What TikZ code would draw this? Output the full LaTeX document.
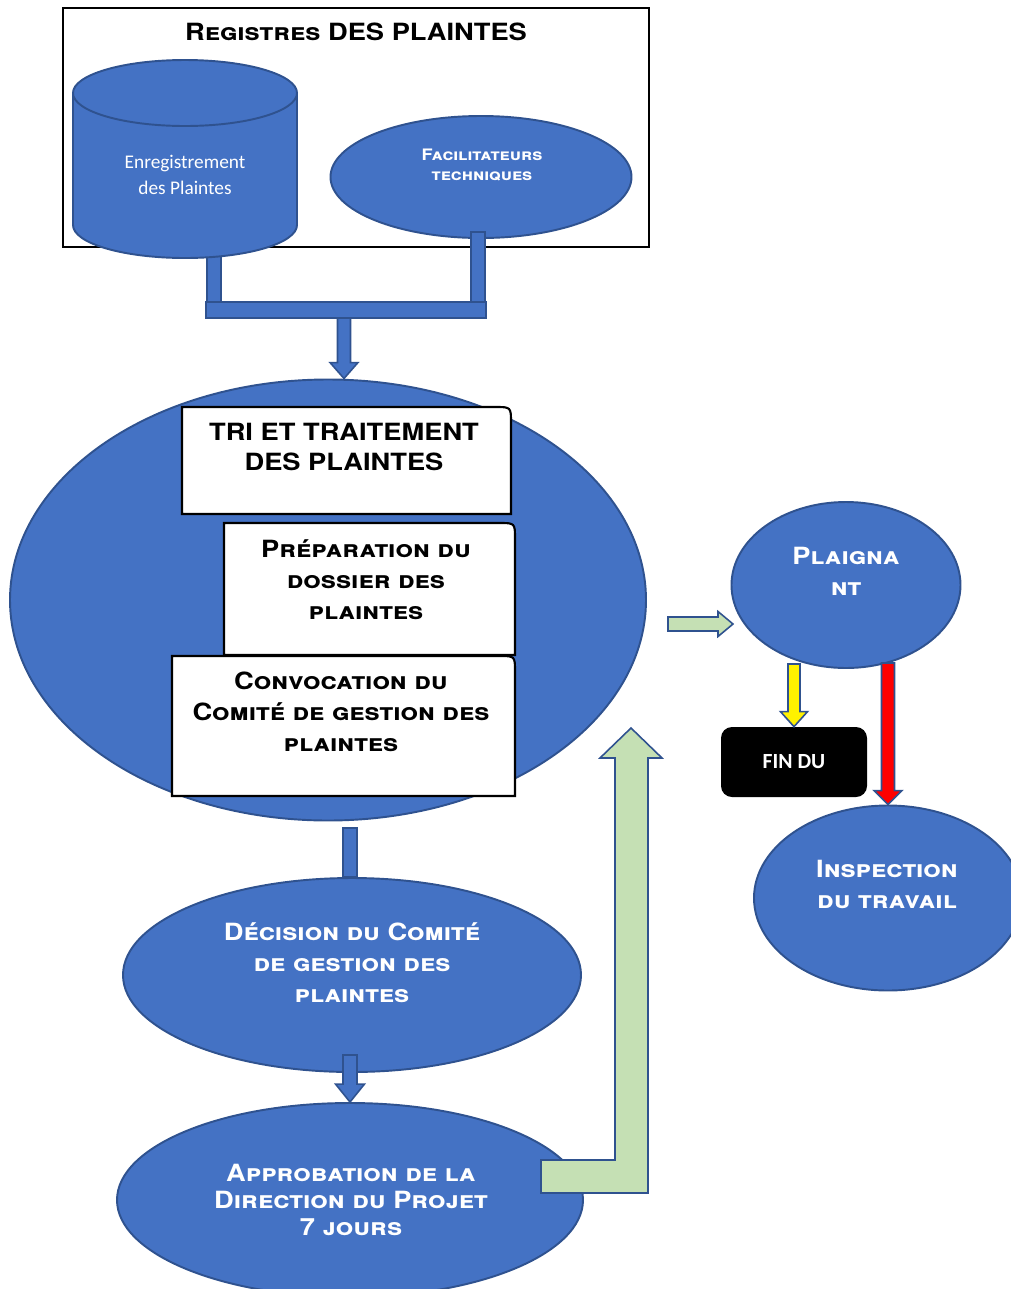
\documentclass[tikz,border=0pt]{standalone}
\usepackage{fontspec}
\setmainfont{Carlito}
\newfontfamily\cuivre{TeX Gyre Heros}[FakeStretch=1.15]
\usetikzlibrary{shapes.geometric,calc}
\definecolor{bleuForme}{HTML}{4472C4}
\definecolor{bleuBord}{HTML}{2F528F}
\definecolor{vertFleche}{HTML}{C5E0B4}
\def\Px{0.02cm}
% Fleches pleines : depart, pointe, couleur, demi-largeur, demi-tete, longueur de tete
\newcommand{\FlecheBas}[6]{%
  \draw[bloc,fill=#3] ($(#2 |- #1)+(-#4,0)$) -- ($(#2)+(-#4,-#6)$) -- ($(#2)+(-#5,-#6)$) -- (#2)
    -- ($(#2)+(#5,-#6)$) -- ($(#2)+(#4,-#6)$) -- ($(#2 |- #1)+(#4,0)$) -- cycle;}
\newcommand{\FlecheDroite}[6]{%
  \draw[bloc,fill=#3] ($(#2 -| #1)+(0,-#4)$) -- ($(#2)+(-#6,-#4)$) -- ($(#2)+(-#6,-#5)$) -- (#2)
    -- ($(#2)+(-#6,#5)$) -- ($(#2)+(-#6,#4)$) -- ($(#2 -| #1)+(0,#4)$) -- cycle;}
\newcommand{\Barre}[2]{%
  \draw[bloc,fill=bleuForme] ($(#1)+(-7,0)$) rectangle ($(#2)+(7,0)$);}
\begin{document}
\begin{tikzpicture}[x=0.02cm,y=-0.02cm]
% Styles
\tikzset{
  forme/.style={ellipse,draw=bleuBord,fill=bleuForme,line width=1.1pt,inner sep=0pt},
  bloc/.style={draw=bleuBord,line width=0.9pt,line join=miter},
  boite/.style={draw=black,fill=white,line width=1.2pt},
  cuivreBlanc/.style={text=white,align=center,inner sep=0pt,font=\cuivre\bfseries\scshape\fontsize{13.5}{17.6}\selectfont},
  cuivreNoir/.style={cuivreBlanc,text=black},
}
\useasboundingbox (0,0) rectangle (1011,1289);
\clip (0,0) rectangle (1011,1289);
% Registre des plaintes
\node[draw=black,line width=0.6pt,minimum width=586*\Px,minimum height=239*\Px,inner sep=0pt] (registre) at (356,127.5) {};
\node[cuivreNoir,font=\cuivre\bfseries\scshape\fontsize{13.5}{16}\selectfont] (titre) at (356,32) {Registres DES PLAINTES};
\node[forme,minimum width=301*\Px,minimum height=122*\Px] (facilitateurs) at (481,177) {};
\node[cuivreBlanc,font=\cuivre\bfseries\scshape\fontsize{9}{11.9}\selectfont] (facilitateursTxt) at (482,165) {Facilitateurs\\techniques};
% Jonction
\coordinate (cylBas) at (214,250);
\coordinate (facilBas) at (478,232);
\coordinate (barreG) at (214,310);
\coordinate (barreD) at (478,310);
\coordinate (jonction) at (344,318);
\Barre{cylBas}{cylBas |- barreG}
\Barre{facilBas}{facilBas |- barreG}
\draw[bloc,fill=bleuForme] ($(barreG)+(-8,-8)$) rectangle ($(barreD)+(8,8)$);
% Cylindre
\node[forme,minimum width=224*\Px,minimum height=66*\Px] (cylPied) at (185,225) {};
\fill[bleuForme] (73,93) rectangle (297,225);
\draw[bleuBord,line width=1.1pt] (73,93) -- (73,225) (297,93) -- (297,225);
\node[forme,minimum width=224*\Px,minimum height=66*\Px] (cylTete) at (185,93) {};
\node[text=white,align=center,inner sep=0pt,font=\fontsize{11}{14.7}\selectfont] (enregistrement) at (185,175) {Enregistrement\\des Plaintes};
% Tri et traitement
\node[forme,minimum width=636*\Px,minimum height=441*\Px] (tri) at (328,600) {};
\coordinate (pointeTri) at (jonction |- tri.north);
\FlecheBas{jonction}{pointeTri}{bleuForme}{6.5}{14}{16}
\draw[boite] (182,514) -- (182,407) -- (495,407) .. controls (511,407) .. (511,423) -- (511,514) -- cycle;
\draw[boite] (224,655) -- (224,523) -- (499,523) .. controls (515,523) .. (515,539) -- (515,655) -- cycle;
\draw[boite] (172,796) -- (172,656) -- (499,656) .. controls (515,656) .. (515,672) -- (515,796) -- cycle;
\node[cuivreNoir] (triTxt) at (344,447) {TRI ET TRAITEMENT\\DES PLAINTES};
\node[cuivreNoir] (preparation) at (366,580) {Préparation du\\dossier des\\plaintes};
\node[cuivreNoir] (convocation) at (341,712) {Convocation du\\Comité de gestion des\\plaintes};
% Decision et approbation
\coordinate (triBas) at (350,828);
\node[forme,minimum width=458*\Px,minimum height=194*\Px] (decision) at (352,975) {};
\Barre{triBas}{triBas |- decision.north}
\node[cuivreBlanc] (decisionTxt) at (352,963) {Décision du Comité\\de gestion des\\plaintes};
\node[forme,minimum width=466*\Px,minimum height=194*\Px] (approbation) at (350,1200) {};
\coordinate (decisionBas) at (352,1055);
\FlecheBas{decisionBas}{approbation.north}{bleuForme}{7}{14.5}{18}
\node[cuivreBlanc,font=\cuivre\bfseries\scshape\fontsize{13.5}{15.3}\selectfont] (approbationTxt) at (351,1200) {Approbation de la\\Direction du Projet\\7 jours};
% Retour vers le plaignant
\coordinate (retourDepart) at (541,1176.5);
\coordinate (retourPointe) at (631,728);
\draw[bloc,fill=vertFleche] ($(retourDepart)+(0,-16.5)$) -| ($(retourPointe)+(-16,30)$) -- ($(retourPointe)+(-31,30)$) -- (retourPointe)
  -- ($(retourPointe)+(31,30)$) -- ($(retourPointe)+(17,30)$) |- ($(retourDepart)+(0,16.5)$) -- cycle;
\coordinate (versPlaignantDepart) at (668,624);
\coordinate (versPlaignant) at (733,624);
\FlecheDroite{versPlaignantDepart}{versPlaignant}{vertFleche}{7}{12.5}{15}
% Plaignant
\node[forme,minimum width=229*\Px,minimum height=166*\Px] (plaignant) at (846,585) {};
\node[cuivreBlanc] (plaignantTxt) at (846,571) {Plaigna\\nt};
\node[fill=black,rounded corners=0.22cm,minimum width=146*\Px,minimum height=70*\Px,inner sep=0pt,text=white,font=\bfseries\fontsize{12.3}{14}\selectfont] (fin) at (794,762) {FIN DU};
\node[forme,minimum width=268*\Px,minimum height=185*\Px] (inspection) at (888,898) {};
\node[cuivreBlanc] (inspectionTxt) at (887,884.5) {Inspection\\du travail};
\coordinate (plaignantJaune) at (793,664);
\coordinate (plaignantRouge) at (888,663);
\FlecheBas{plaignantJaune}{fin.north}{yellow}{6}{13.5}{15}
\FlecheBas{plaignantRouge}{inspection.north}{red}{6.5}{14}{14}
\end{tikzpicture}
\end{document}
